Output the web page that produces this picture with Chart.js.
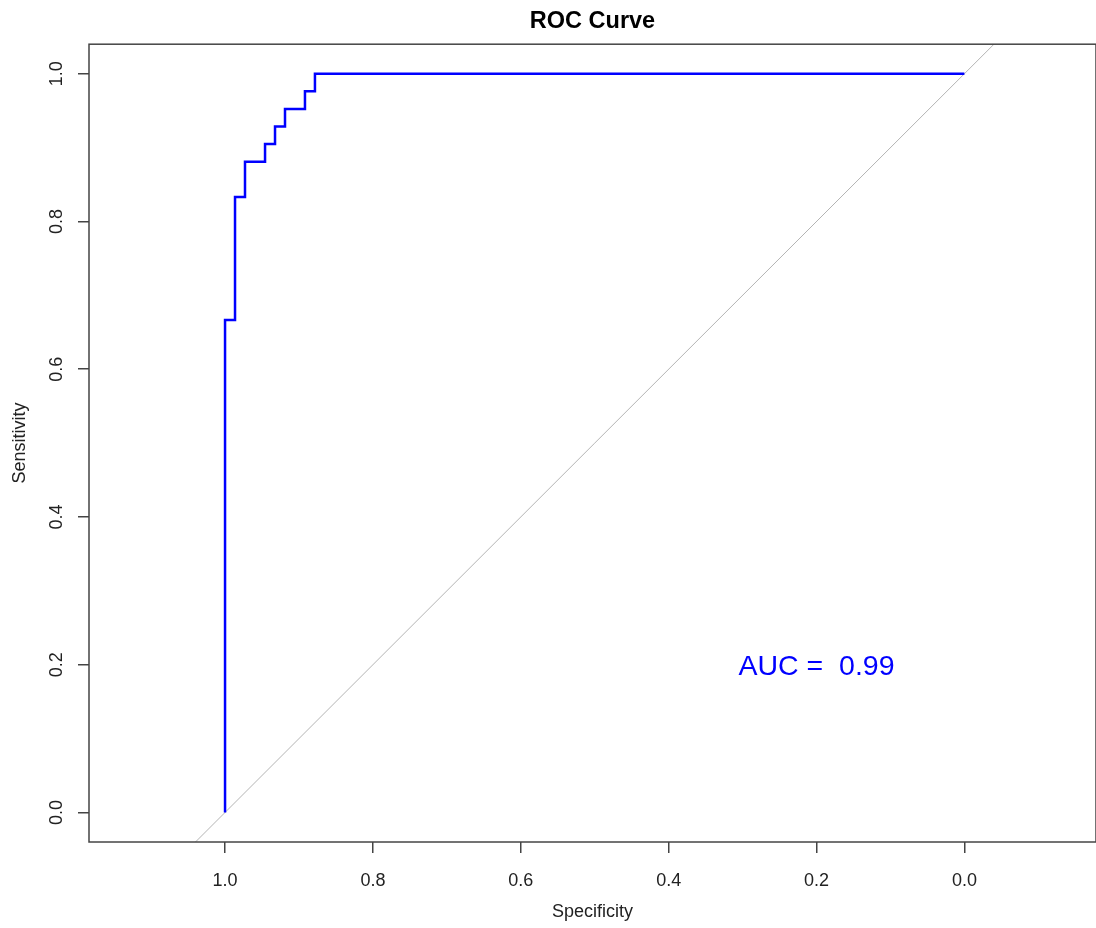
<!DOCTYPE html>
<html>
<head>
<meta charset="utf-8">
<title>ROC Curve</title>
<script src="https://cdn.jsdelivr.net/npm/chart.js@4.4.1/dist/chart.umd.min.js"></script>
<style>
  html, body { margin: 0; padding: 0; background: #ffffff; }
  #wrap { width: 1096px; height: 928px; }
</style>
</head>
<body>
<div id="wrap"><canvas id="roc_chart" width="1096" height="928"></canvas></div>
<script>
//ROC points, specificity goes on the (reversed) x axis
const specificity = [1, 0.9865, 0.9730, 0.9459, 0.9324, 0.9189, 0.8919, 0.8784, 0];
const sensitivity = [0, 0.6667, 0.8333, 0.8810, 0.9048, 0.9286, 0.9524, 0.9762, 1];
//Chance line, it runs past the box and gets clipped
const diag_x = [1.1, -0.1];
const diag_y = [-0.1, 1.1];
//Axis ticks
const tick_values = [0, 0.2, 0.4, 0.6, 0.8, 1.0];
const auc_value = 0.99;
const auc_pos = [0.2, 0.2];

const font_family = "'Liberation Sans', Arial, sans-serif";

var roc_points = [];
for(let i = 0;i < specificity.length;i++){
    roc_points.push({x: specificity[i], y: sensitivity[i]});
}
var diag_points = [];
for(let i = 0;i < diag_x.length;i++){
    diag_points.push({x: diag_x[i], y: diag_y[i]});
}

//Box around the plot region plus the AUC label, like base R does
const boxPlugin = {
    id: 'boxPlugin',
    afterDatasetsDraw(chart){
        const ctx = chart.ctx;
        const a = chart.chartArea;
        ctx.save();
        ctx.strokeStyle = '#444';
        ctx.lineWidth = 1.5;
        ctx.strokeRect(a.left, a.top, a.right - a.left, a.bottom - a.top);
        //AUC text
        const xs = chart.scales.x;
        const ys = chart.scales.y;
        ctx.fillStyle = '#0000FF';
        ctx.font = "28.5px " + font_family;
        ctx.textAlign = 'center';
        ctx.textBaseline = 'middle';
        ctx.fillText("AUC =  " + auc_value.toFixed(2), xs.getPixelForValue(auc_pos[0]), ys.getPixelForValue(auc_pos[1]) + 2);
        ctx.restore();
    }
};

function setTicks(scale){
    scale.ticks = tick_values.map(v => ({value: v}));
}

var ctx = document.getElementById("roc_chart").getContext('2d');
const chrt = new Chart(ctx, {
    type: 'scatter',
    data: {
        datasets: [{
            label: 'ROC',
            data: roc_points,
            showLine: true,
            stepped: 'after',
            borderColor: '#0000FF',
            borderWidth: 2.5,
            pointRadius: 0,
            fill: false
        }, {
            label: 'Chance',
            data: diag_points,
            showLine: true,
            borderColor: '#B4B4B4',
            borderWidth: 1,
            pointRadius: 0,
            fill: false,
            clip: 0
        }]
    },
    options: {
        responsive: false,
        animation: false,
        devicePixelRatio: 1,
        layout: { padding: { left: 0, right: 0, top: 0, bottom: 0 } },
        plugins: {
            legend: { display: false },
            tooltip: { enabled: false },
            title: {
                display: true,
                fullSize: false,
                text: 'ROC Curve',
                color: '#000',
                font: { family: font_family, size: 23.5, weight: 'bold' },
                padding: { top: 7, bottom: 9 }
            }
        },
        scales: {
            x: {
                type: 'linear',
                reverse: true,
                min: -0.178,
                max: 1.184,
                afterBuildTicks: setTicks,
                afterFit(scale){ scale.height = 86; },
                grid: { display: true, drawOnChartArea: false, drawTicks: true, tickLength: 11, color: '#444', lineWidth: 1.5 },
                border: { display: false },
                ticks: {
                    color: '#222',
                    padding: 17,
                    font: { family: font_family, size: 18 },
                    callback: (v) => Number(v).toFixed(1)
                },
                title: {
                    display: true,
                    text: 'Specificity',
                    color: '#222',
                    font: { family: font_family, size: 18 },
                    padding: { top: 0, bottom: 5 }
                }
            },
            y: {
                type: 'linear',
                min: -0.04,
                max: 1.04,
                afterBuildTicks: setTicks,
                afterFit(scale){ scale.width = 89; },
                grid: { display: true, drawOnChartArea: false, drawTicks: true, tickLength: 11, color: '#444', lineWidth: 1.5 },
                border: { display: false },
                ticks: {
                    color: '#222',
                    padding: 8,
                    minRotation: 90,
                    maxRotation: 90,
                    crossAlign: 'center',
                    font: { family: font_family, size: 18 },
                    callback: (v) => Number(v).toFixed(1)
                },
                title: {
                    display: true,
                    text: 'Sensitivity',
                    color: '#222',
                    font: { family: font_family, size: 18 },
                    padding: { top: 9, bottom: 0 }
                }
            }
        }
    },
    plugins: [boxPlugin]
});
</script>
</body>
</html>
